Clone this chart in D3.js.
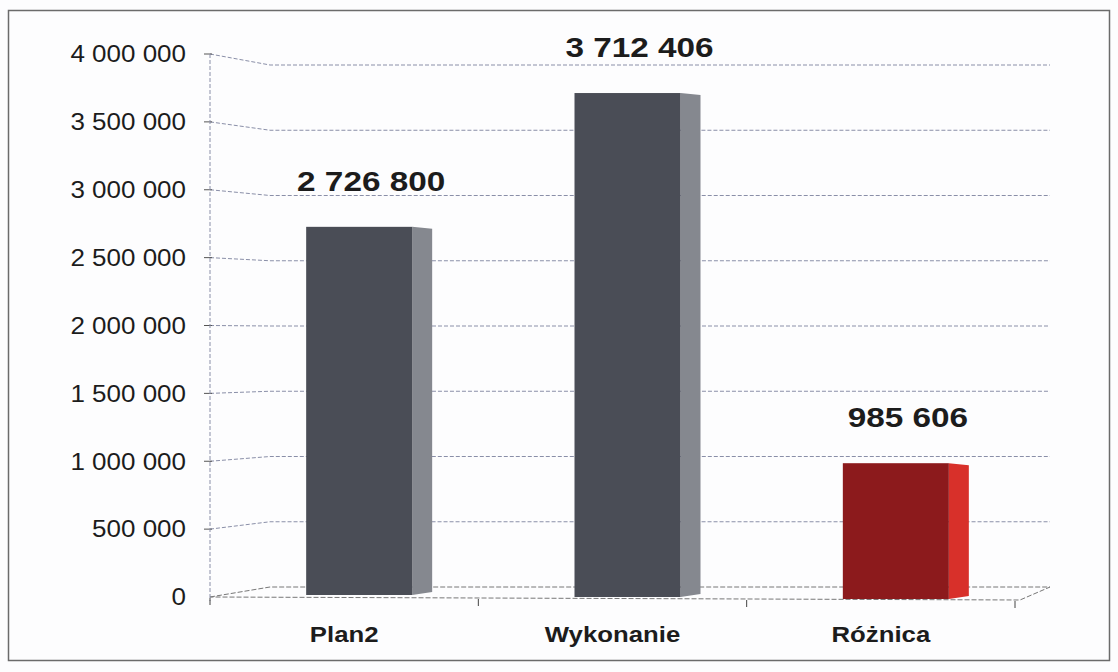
<!DOCTYPE html>
<meta charset="utf-8">
<html>
<head>
<script src="https://d3js.org/d3.v7.min.js"></script>
<style>
  body { margin: 0; background: #fdfdfe; }
  text { font-family: Arial, "Liberation Sans", sans-serif; fill: #1c1c1c; }
</style>
</head>
<body>
<script>
// data
var categories = ["Plan2", "Wykonanie", "Różnica"];
var values = [2726800, 3712406, 985606];
var yTicks = [0, 500000, 1000000, 1500000, 2000000, 2500000, 3000000, 3500000, 4000000];
var frontColors = ["#4a4d56", "#4a4d56", "#8c1a1c"];
var sideColors = ["#85888f", "#85888f", "#d8302a"];

var width = 1118, height = 672;
var svg = d3.select("body").append("svg")
    .attr("width", width)
    .attr("height", height);

// outer frame
svg.append("rect")
    .attr("x", 8.5).attr("y", 10.5)
    .attr("width", 1101).attr("height", 650)
    .attr("fill", "#fdfdfe")
    .attr("stroke", "#6b6b6b")
    .attr("stroke-width", 1.5);

var axisX = 210, backX = 270, rightX = 1050;
var yFront = d3.scaleLinear().domain([0, 4000000]).range([597, 54]);
var yBack = d3.scaleLinear().domain([0, 4000000]).range([587, 65]);
var x = d3.scaleBand().domain(categories).range([axisX, 1015]).padding(0);

var fmt = function(v) { return d3.format(",")(v).replace(/,/g, " "); };

// text is a bit wider in the scan, so stretch it horizontally
function stretchedText(g, tx, ty, s, str) {
    return g.append("g")
        .attr("transform", "translate(" + tx + "," + ty + ") scale(" + s + ",1)")
        .append("text")
        .text(str);
}

// gridlines (front tick -> back wall -> right)
var grid = svg.append("g");
yTicks.forEach(function(t) {
    if (t === 0) return;
    grid.append("polyline")
        .attr("points", [[axisX, yFront(t)], [backX, yBack(t)], [rightX, yBack(t)]].join(" "))
        .attr("fill", "none")
        .attr("stroke", "#8a8fa8")
        .attr("stroke-width", 1)
        .attr("stroke-dasharray", "4,2");
    grid.append("line")
        .attr("x1", axisX - 6).attr("x2", axisX + 2)
        .attr("y1", yFront(t)).attr("y2", yFront(t))
        .attr("stroke", "#555");
});

// floor
svg.append("polyline")
    .attr("points", [[axisX, yFront(0)], [backX, yBack(0)], [rightX, yBack(0)], [1020, yFront(0) + 3], [axisX, yFront(0)]].join(" "))
    .attr("fill", "none")
    .attr("stroke", "#777")
    .attr("stroke-width", 1)
    .attr("stroke-dasharray", "5,2");

// y axis line
svg.append("line")
    .attr("x1", axisX).attr("x2", axisX)
    .attr("y1", yFront(4000000)).attr("y2", yFront(0) + 4)
    .attr("stroke", "#8a8fa8")
    .attr("stroke-dasharray", "4,2");

// category ticks
x.domain().concat(["end"]).forEach(function(c, i) {
    var xx = axisX + i * x.bandwidth();
    svg.append("line")
        .attr("x1", xx).attr("x2", xx)
        .attr("y1", yFront(0) + 1 + i).attr("y2", yFront(0) + 8 + i)
        .attr("stroke", "#444");
});

// y labels
var yl = svg.append("g");
yTicks.forEach(function(t) {
    stretchedText(yl, 186, yFront(t), 1.13, fmt(t))
        .attr("dy", "0.36em")
        .attr("text-anchor", "end")
        .attr("font-size", 23);
});

// bars: front face + right side face
var faceW = 106, depth = 20, shift = 15;
var bars = svg.append("g").selectAll("g")
    .data(values)
    .enter().append("g");

bars.append("polygon")
    .attr("points", function(d, i) {
        var x0 = x(categories[i]) + x.bandwidth() / 2 + shift + faceW / 2;
        var top = yFront(d), bot = yFront(0) - 2 + i * 2;
        return [[x0, top], [x0 + depth, top + 2], [x0 + depth, bot - 3], [x0, bot]].join(" ");
    })
    .attr("fill", function(d, i) { return sideColors[i]; });

bars.append("rect")
    .attr("x", function(d, i) { return x(categories[i]) + x.bandwidth() / 2 + shift - faceW / 2; })
    .attr("y", function(d) { return yFront(d); })
    .attr("width", faceW)
    .attr("height", function(d, i) { return yFront(0) - 2 + i * 2 - yFront(d); })
    .attr("fill", function(d, i) { return frontColors[i]; });

// value labels
var vl = svg.append("g");
values.forEach(function(v, i) {
    stretchedText(vl, x(categories[i]) + x.bandwidth() / 2 + shift + 12, yFront(v) - 36, 1.19, fmt(v))
        .attr("text-anchor", "middle")
        .attr("font-size", 28)
        .attr("font-weight", "bold");
});

// category labels
var cl = svg.append("g");
categories.forEach(function(c) {
    stretchedText(cl, x(c) + x.bandwidth() / 2, 642, 1.12, c)
        .attr("text-anchor", "middle")
        .attr("font-size", 23)
        .attr("font-weight", "bold");
});
</script>
</body>
</html>
